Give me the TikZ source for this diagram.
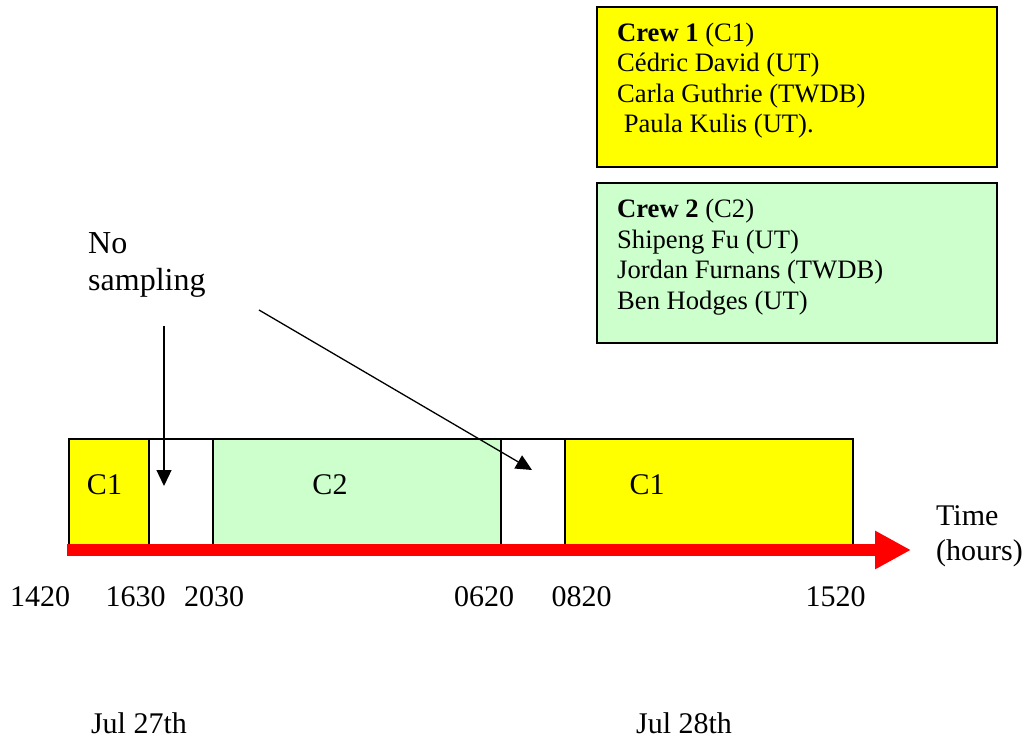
\documentclass[tikz,border=0pt]{standalone}
\usepackage{fontspec}
\setmainfont{Liberation Serif}
\usetikzlibrary{arrows.meta}
\definecolor{crewyellow}{RGB}{255,255,0}
\definecolor{crewgreen}{RGB}{204,255,204}
\definecolor{axisred}{RGB}{255,0,0}
\begin{document}
\begin{tikzpicture}[x=1pt,y=-1pt,
  crewbox/.style={draw=black, line width=2pt, anchor=north west, inner sep=0pt,
    minimum width=400pt, minimum height=160pt},
  crewtext/.style={anchor=base west, inner sep=0pt, align=left,
    font=\fontsize{26.6}{30.5}\selectfont},
  seg/.style={draw=black, line width=2pt, anchor=north west, inner sep=0pt,
    minimum height=107pt, font=\fontsize{30}{34}\selectfont},
  lbl/.style={inner sep=0pt, anchor=base, font=\fontsize{30}{34}\selectfont},
  pointer/.style={draw=black, line width=1.3pt, -{Triangle[length=16pt,width=15pt]}},
]
\useasboundingbox (0,0) rectangle (1029,738);

% crew boxes (multi-line nodes: base anchor = last line's baseline)
\node[crewbox, fill=crewyellow] (crew1) at (596,6) {};
\node[crewtext] (crew1t) at (617,133) {\textbf{Crew 1} (C1)\\Cédric David (UT)\\Carla Guthrie (TWDB)\\\ Paula Kulis (UT).};
\node[crewbox, fill=crewgreen] (crew2) at (596,182) {};
\node[crewtext] (crew2t) at (617,309) {\textbf{Crew 2} (C2)\\Shipeng Fu (UT)\\Jordan Furnans (TWDB)\\Ben Hodges (UT)};

% timeline segments
\node[seg, fill=crewyellow, minimum width=80pt] (s1) at (68,438) {};
\node[seg, fill=white, minimum width=64pt] (s2) at (148,438) {};
\node[seg, fill=crewgreen, minimum width=288pt] (s3) at (212,438) {};
\node[seg, fill=white, minimum width=64pt] (s4) at (500,438) {};
\node[seg, fill=crewyellow, minimum width=288pt] (s5) at (564,438) {};
\node[lbl] (c1a) at (104.5,494) {C1};
\node[lbl] (c2) at (330,494) {C2};
\node[lbl] (c1b) at (647,494) {C1};

% time axis
\coordinate (axL) at (67,550);
\coordinate (axR) at (911,550);
\draw[axisred, line width=12pt, -{Triangle[length=36pt,width=36pt]}] (axL) -- (axR);
\node[anchor=base west, inner sep=0pt, align=left, font=\fontsize{30}{35}\selectfont] (time) at (936,560) {Time\\(hours)};

% tick labels
\node[lbl] (t1) at (40,606) {1420};
\node[lbl] (t2) at (135.5,606) {1630};
\node[lbl] (t3) at (214,606) {2030};
\node[lbl] (t4) at (484,606) {0620};
\node[lbl] (t5) at (581.5,606) {0820};
\node[lbl] (t6) at (835.5,606) {1520};

% dates
\node[lbl] (d1) at (139,733) {Jul 27th};
\node[lbl] (d2) at (684,733) {Jul 28th};

% no sampling
\node[anchor=base west, inner sep=0pt, align=left, font=\fontsize{32}{37}\selectfont] (ns) at (88,291) {No\\sampling};
\coordinate (p1s) at (164,326);
\coordinate (p1e) at (164,486);
\coordinate (p2s) at (259,310);
\coordinate (p2e) at (532,470);
\draw[pointer] (p1s) -- (p1e);
\draw[pointer] (p2s) -- (p2e);
\end{tikzpicture}
\end{document}
